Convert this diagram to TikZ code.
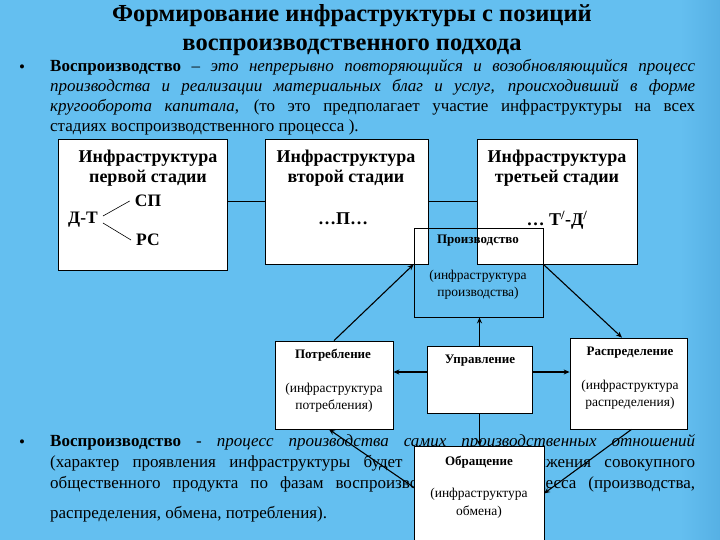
\documentclass[tikz,border=0pt]{standalone}
\usepackage{fontspec}
\setmainfont{Liberation Serif}
\usetikzlibrary{arrows.meta,positioning}
\definecolor{slideblue}{RGB}{100,191,240}
\definecolor{slideedge}{RGB}{86,176,228}

\begin{document}
\begin{tikzpicture}[
  x=1pt, y=-1pt,
  stagebox/.style={draw, line width=0.8pt, fill=white, inner sep=0pt},
  phasebox/.style={draw, line width=0.8pt, inner sep=0pt},
  head/.style={font=\fontsize{24.5}{28}\selectfont\bfseries, inner sep=0pt},
  stagetxt/.style={font=\fontsize{18}{20}\selectfont\bfseries, align=center, inner sep=0pt},
  flowtxt/.style={font=\fontsize{17.5}{20}\selectfont\bfseries, inner sep=5pt},
  phasetitle/.style={font=\fontsize{13}{15}\selectfont\bfseries, inner sep=0pt},
  phasenote/.style={font=\fontsize{13.5}{17.5}\selectfont, align=center, inner sep=0pt},
  para/.style={font=\fontsize{17}{20}\selectfont, text width=645pt, align=justify, inner sep=0pt, anchor=north west},
  arrow/.style={-{Stealth[length=6pt,width=5pt]}, line width=1.1pt}
]
\useasboundingbox (0,0) rectangle (720,540);
\fill[slideblue] (0,0) rectangle (720,540);
\shade[left color=slideblue, right color=slideedge] (680,0) rectangle (720,540);

% title
\node[head] (title1) at (352,16) {Формирование инфраструктуры с позиций};
\node[head] (title2) at (352,47) {воспроизводственного подхода};

% first bullet
\node[font=\fontsize{17}{20}\selectfont] (dot1) at (22,69) {\textbullet};
\node[para] (text1) at (50,59) {\textbf{Воспроизводство} – \textit{это непрерывно повторяющийся и возобновляющийся процесс}\linebreak
\textit{производства и реализации материальных благ и услуг, происходивший в форме}\linebreak
\textit{кругооборота капитала}, (то это предполагает участие инфраструктуры на всех\linebreak
стадиях воспроизводственного процесса ).};

% second bullet
\node[font=\fontsize{17}{20}\selectfont] (dot2) at (22,444) {\textbullet};
\node[para, font=\fontsize{17}{21}\selectfont] (text2) at (50,434) {\textbf{Воспроизводство} - \textit{процесс производства самих производственных отношений}\linebreak
(характер проявления инфраструктуры будет зависеть от движения совокупного\linebreak
общественного продукта по фазам воспроизводственного процесса (производства,\vspace{9pt}\linebreak
распределения, обмена, потребления).};

% stages
\node[stagebox, minimum width=169pt, minimum height=131pt] (st1) at (142.5,204.5) {};
\node[stagebox, minimum width=163pt, minimum height=125pt] (st2) at (346.5,201.5) {};
\node[stagebox, minimum width=160pt, minimum height=125pt] (st3) at (557,201.5) {};
\draw[line width=0.8pt] (st2.west) -- (st2.west -| st1.east);
\draw[line width=0.8pt] (st2.east) -- (st3.west);

\node[stagetxt] (st1t) at (148,168) {Инфраструктура\\первой стадии};
\node[stagetxt] (st2t) at (346,168) {Инфраструктура\\второй стадии};
\node[stagetxt] (st3t) at (557,168) {Инфраструктура\\третьей стадии};

\node[flowtxt] (dt) at (83,220) {Д-Т};
\node[flowtxt] (sp) at (148,201) {СП};
\node[flowtxt] (rs) at (148,240) {РС};
\draw[line width=0.6pt] ([yshift=4pt]dt.east) -- (sp.west);
\draw[line width=0.6pt] ([yshift=-3pt]dt.east) -- (rs.west);

\node[stagetxt] (st2f) at (343,219) {\ldots П\ldots};
\node[stagetxt] (st3f) at (557,220) {\ldots{} Т\textsuperscript{/}-Д\textsuperscript{/}};

% production
\node[phasebox, minimum width=129pt, minimum height=89pt] (prod) at (478.5,272.5) {};
\node[phasetitle] (prodt) at (478,241) {Производство};
\node[phasenote] (prodn) at (478,285) {(инфраструктура\\производства)};

% phases
\node[phasebox, fill=white, minimum width=118pt, minimum height=88pt] (potr) at (334,385) {};
\node[phasebox, fill=white, minimum width=105pt, minimum height=67pt] (upr) at (479.5,379.5) {};
\node[phasebox, fill=white, minimum width=117pt, minimum height=91pt] (raspr) at (628.5,383.5) {};

\node[phasetitle] (potrt) at (333,355) {Потребление};
\node[phasenote] (potrn) at (334,398) {(инфраструктура\\потребления)};
\node[phasetitle] (uprt) at (480,361) {Управление};
\node[phasetitle] (rasprt) at (630,353) {Распределение};
\node[phasenote] (rasprn) at (630,395) {(инфраструктура\\распределения)};

% flows
\draw[arrow] (potr.north) -- (prod.west |- st2.south);
\draw[arrow] (upr.north) -- (upr.north |- prod.south);
\draw[arrow] ([yshift=7.5pt]upr.west) -- ([yshift=7.5pt]upr.west -| potr.east);
\draw[arrow, line width=1.6pt] ([yshift=7.5pt]upr.east) -- ([yshift=7.5pt]upr.east -| raspr.west);
\draw[arrow] (prod.east |- st3.south) -- ([xshift=-6.5pt]raspr.north);
\draw[arrow] (upr.south) -- (upr.south |- 0,446);
\draw[arrow] ([xshift=3pt]raspr.south) -- ([yshift=2pt]479,495.5 -| 544,0);
\draw[arrow] ([yshift=8pt]414,495.5) -- ([xshift=-5pt]potr.south);

% exchange
\node[phasebox, fill=white, minimum width=130pt, minimum height=96pt] (obr) at (479,494) {};
\node[phasetitle] (obrt) at (479,462) {Обращение};
\node[phasenote] (obrn) at (479,503) {(инфраструктура\\обмена)};
\end{tikzpicture}
\end{document}
